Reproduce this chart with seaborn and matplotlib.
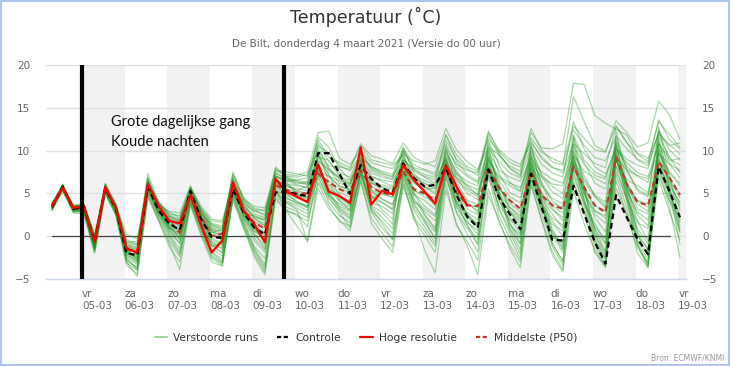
import numpy as np
import pandas as pd
import matplotlib
matplotlib.use("Agg")
import matplotlib.pyplot as plt
import seaborn as sns
from matplotlib.lines import Line2D
from matplotlib.patches import Rectangle

# ---------------- data ----------------
times = pd.date_range("2021-03-04 07:00", periods=60, freq="6h")

hres = [3.5, 5.7, 3.3, 3.5, -0.7, 5.7, 3.3, -1.4, -1.9, 6.1, 3.6, 1.8, 1.5, 4.8,
        1.3, -1.9, -0.5, 6.3, 3.0, 1.4, -0.7, 6.7, 5.2, 4.6, 4.0, 8.4, 5.2, 4.7,
        3.9, 10.4, 3.7, 5.3, 4.9, 8.3, 6.6, 5.2, 3.8, 8.3, 5.8, 3.6]

controle = [3.4, 5.8, 3.2, 3.4, -0.6, 5.6, 3.2, -2.0, -2.2, 5.8, 3.0, 1.5, 0.7, 5.3,
            2.0, -0.1, -0.2, 5.5, 2.8, 1.0, 0.2, 5.1, 5.2, 4.9, 4.7, 9.7, 9.7, 7.3,
            4.95, 8.3, 6.7, 5.6, 5.1, 8.5, 6.8, 5.8, 6.0, 8.0, 4.8, 2.3, 1.0, 7.8,
            4.5, 2.6, 0.8, 7.3, 3.4, -0.4, -0.5, 5.9, 2.6, -0.7, -3.2, 4.8, 2.2,
            -0.3, -2.1, 8.1, 5.3, 2.2]

p50 = [3.6, 5.6, 3.2, 3.3, -0.5, 5.6, 3.3, -1.5, -2.0, 5.9, 3.3, 1.8, 0.4, 5.0,
       2.3, 0.0, 0.3, 5.2, 3.0, 1.6, 0.9, 6.0, 5.4, 5.0, 5.0, 7.3, 6.3, 5.5,
       4.95, 7.7, 5.7, 5.1, 4.8, 7.6, 5.5, 5.0, 4.2, 7.7, 5.2, 3.6, 3.5, 8.0,
       5.7, 4.2, 3.2, 7.5, 4.8, 3.6, 3.2, 8.1, 5.7, 3.6, 2.8, 9.2, 6.1, 4.0,
       3.6, 8.7, 6.9, 4.8]

member_01 = [3.6, 5.9, 3.4, 3.3, -0.9, 5.5, 3.1, -1.8, -2.4, 5.7, 3.0, 1.2, 0.6, 4.9, 2.1,
             0.2, -0.4, 5.6, 2.9, 0.8, 0.1, 6.2, 5.3, 4.8, 4.4, 7.8, 6.0, 5.1, 4.6, 8.2, 5.9,
             5.0, 4.5, 7.9, 5.4, 4.6, 3.9, 8.1, 5.0, 3.2, 2.5, 8.4, 5.6, 3.9, 2.8, 7.9, 4.6,
             3.1, 2.2, 8.8, 5.9, 3.0, 2.1, 9.5, 6.3, 4.1, 3.4, 8.9, 6.6, 4.5]
member_02 = [3.2, 5.6, 3.0, 3.0, -1.5, 5.4, 2.8, -2.9, -3.6, 5.2, 2.4, 0.3, -1.5, 4.4, 1.0,
             -1.8, -2.7, 5.0, 1.8, -1.2, -2.6, 5.4, 4.1, 3.6, 3.0, 8.6, 5.2, 3.5, 2.9, 9.0, 4.8,
             3.1, 2.0, 8.8, 4.5, 2.4, 1.0, 8.9, 4.2, 1.2, -0.4, 9.1, 4.8, 1.5, -0.9, 8.7, 4.0,
             0.6, -1.4, 9.6, 5.2, 0.9, -1.8, 10.4, 5.9, 1.8, -0.6, 11.2, 6.8, 3.1]
member_03 = [3.9, 5.4, 3.6, 3.7, 0.3, 5.3, 3.5, 0.2, -0.3, 6.0, 3.8, 2.6, 2.4, 5.1, 3.2,
             1.8, 1.6, 5.9, 3.8, 2.9, 2.6, 6.6, 6.1, 5.9, 5.7, 9.2, 7.6, 6.8, 6.2, 8.9, 7.4,
             6.9, 6.6, 8.4, 7.1, 6.5, 6.0, 9.4, 7.3, 6.4, 5.9, 9.8, 7.7, 6.9, 6.4, 9.1, 7.5,
             6.7, 6.2, 10.5, 8.4, 7.1, 6.7, 10.1, 8.6, 7.4, 7.0, 10.8, 9.1, 8.3]
member_04 = [3.4, 6.0, 3.2, 3.5, -0.4, 5.9, 3.4, -1.2, -1.7, 6.3, 3.5, 1.9, 1.3, 5.2, 2.6,
             0.9, 0.4, 6.5, 3.5, 2.1, 1.2, 7.1, 6.4, 6.6, 6.8, 10.9, 8.7, 7.4, 6.9, 9.7, 8.1,
             7.6, 7.2, 10.4, 8.3, 7.8, 7.4, 11.2, 9.0, 7.9, 7.1, 11.8, 9.4, 8.2, 7.6, 12.1, 10.3,
             10.2, 10.8, 17.9, 17.7, 14.1, 13.2, 12.5, 11.8, 9.6, 8.7, 13.4, 11.9, 10.4]
member_05 = [3.0, 5.2, 2.8, 2.7, -1.9, 4.9, 2.5, -3.4, -4.4, 4.7, 1.8, -1.2, -3.0, 3.8, 0.3,
             -2.6, -3.4, 4.6, 1.2, -2.1, -4.2, 4.8, 3.4, 2.9, 2.2, 7.1, 4.0, 2.4, 1.6, 7.8, 3.4,
             2.2, 0.9, 6.7, 3.0, 1.1, -0.8, 7.0, 2.7, 0.3, -1.8, 7.5, 3.1, 0.4, -2.1, 6.8, 2.6,
             -0.9, -2.9, 7.4, 3.5, -0.6, -3.3, 8.2, 4.1, -1.1, -3.2, 9.4, 4.6, 0.8]
member_06 = [3.5, 5.8, 3.3, 3.6, -0.6, 5.8, 3.4, -1.4, -2.0, 6.2, 3.4, 1.7, 1.1, 4.7, 1.6,
             -1.2, -0.8, 6.1, 3.1, 1.2, -0.5, 6.8, 5.6, 4.5, 3.9, 8.1, 5.5, 4.9, 3.6, 10.1, 4.3,
             5.2, 4.9, 8.0, 6.2, 5.4, 4.0, 8.6, 5.9, 3.8, 3.0, 7.9, 4.9, 2.8, 1.6, 7.1, 3.8,
             2.1, 1.3, 8.3, 4.9, 2.9, 2.4, 9.8, 6.2, 3.2, 2.6, 8.4, 5.8, 4.0]
member_07 = [3.8, 5.7, 3.5, 3.4, -0.2, 5.6, 3.6, -0.8, -1.1, 5.9, 3.9, 2.3, 1.9, 5.6, 2.9,
             1.2, 0.9, 6.9, 4.2, 3.3, 2.9, 7.6, 7.2, 7.1, 7.5, 12.1, 12.3, 9.1, 8.4, 9.9, 8.6,
             8.2, 7.9, 9.6, 8.8, 8.4, 8.8, 12.6, 10.1, 8.7, 7.8, 10.4, 9.5, 8.0, 7.2, 11.5, 9.8,
             9.1, 8.5, 12.9, 11.4, 10.1, 9.8, 13.5, 12.1, 10.4, 10.9, 15.8, 14.2, 11.3]
member_08 = [3.1, 5.5, 2.9, 2.9, -1.7, 5.1, 2.6, -2.6, -3.9, 5.0, 2.2, -0.2, -2.1, 4.1, 0.8,
             -2.2, -3.1, 4.8, 1.4, -1.6, -3.6, 5.2, 3.9, 3.1, -0.7, 5.6, 3.2, 1.9, 0.6, 6.4, 2.1,
             0.4, -1.2, 6.1, 2.4, -1.6, -4.3, 5.4, 1.5, -1.1, -4.5, 4.8, 1.9, -1.4, -3.7, 5.9, 2.0,
             -1.8, -3.9, 6.4, 2.8, -1.9, -3.7, 7.2, 3.3, -2.0, -3.6, 7.7, 3.5, -2.5]
member_09 = [3.7, 6.1, 3.4, 3.2, -1.1, 5.7, 3.0, -2.2, -2.8, 6.6, 3.2, 0.9, 0.1, 5.4, 2.5,
             -0.7, -1.6, 5.7, 2.4, 0.3, -1.4, 6.4, 5.8, 5.6, 5.3, 9.5, 7.1, 5.8, 5.5, 8.7, 6.6,
             5.7, 5.0, 9.3, 6.8, 5.9, 5.1, 9.7, 6.9, 5.0, 4.3, 9.2, 6.5, 4.6, 3.9, 10.4, 7.0,
             5.2, 4.4, 9.8, 7.1, 4.7, 3.6, 11.2, 7.6, 5.5, 4.8, 9.6, 7.4, 5.9]
member_10 = [3.3, 5.3, 3.1, 3.1, -1.3, 5.2, 2.9, -1.9, -2.6, 5.4, 2.8, 1.0, 0.4, 4.6, 1.8,
             -0.4, -1.0, 5.3, 2.6, 0.5, 0.4, 5.9, 4.9, 4.1, 3.5, 6.8, 4.7, 3.8, 3.1, 7.3, 4.5,
             3.9, 3.2, 7.2, 4.1, 3.2, 2.3, 6.7, 3.9, 2.1, 1.5, 7.1, 3.6, 1.9, 1.1, 6.5, 3.0,
             1.4, 0.6, 6.9, 3.8, 1.1, -0.3, 7.6, 4.4, 1.6, 0.9, 7.1, 4.1, 2.3]
member_11 = [3.6, 5.5, 3.5, 3.8, 0.1, 5.4, 3.7, -0.4, -0.9, 5.6, 3.6, 2.9, 2.7, 5.8, 3.5,
             2.0, 1.8, 6.3, 4.0, 3.0, 3.1, 7.0, 6.7, 6.4, 6.1, 7.5, 7.0, 6.5, 6.0, 9.3, 8.1,
             7.4, 7.0, 8.9, 7.9, 7.2, 6.9, 10.3, 8.4, 7.7, 7.4, 11.4, 9.9, 8.6, 8.1, 10.9, 9.3,
             8.0, 7.7, 12.4, 10.6, 9.2, 8.8, 11.7, 10.2, 9.0, 8.5, 13.6, 11.3, 10.2]
member_12 = [3.4, 5.9, 3.0, 3.0, -1.0, 6.0, 3.1, -2.3, -3.1, 6.1, 2.9, 0.5, -0.8, 5.0, 1.5,
             -1.5, -2.3, 5.9, 2.0, -0.5, -1.9, 6.6, 5.0, 4.0, 3.3, 9.9, 6.3, 4.2, 3.0, 8.0, 3.6,
             2.8, 1.4, 9.9, 5.1, 2.6, 0.7, 10.6, 5.5, 1.8, 0.2, 10.1, 5.2, 0.9, -0.9, 9.6, 4.4,
             0.1, -1.9, 10.9, 5.6, -0.5, -2.7, 12.3, 6.1, 0.3, -2.4, 12.8, 7.0, 1.9]
member_13 = [3.5, 5.6, 3.2, 3.4, -0.5, 5.5, 3.2, -1.6, -1.8, 5.9, 3.3, 1.6, 0.9, 4.9, 2.2,
             0.5, 0.1, 5.1, 3.1, 1.7, 1.3, 5.8, 5.5, 5.2, 5.0, 7.0, 6.5, 5.6, 5.1, 7.6, 5.4,
             4.9, 4.6, 7.4, 5.3, 4.9, 4.5, 7.6, 5.1, 3.7, 3.4, 7.8, 5.5, 4.2, 3.3, 7.3, 4.7,
             3.8, 3.4, 8.0, 5.5, 3.6, 2.9, 8.9, 6.0, 4.2, 3.8, 8.5, 6.8, 5.0]
member_14 = [3.7, 5.4, 3.3, 3.5, -0.8, 5.3, 3.3, -1.1, -1.5, 5.5, 3.7, 2.1, 1.6, 4.4, 2.0,
             0.7, -0.1, 4.8, 2.7, 2.4, 2.0, 7.3, 6.9, 6.1, 6.3, 11.6, 10.4, 7.9, 6.6, 9.1, 5.2,
             4.3, 3.7, 8.5, 3.9, 1.8, -0.2, 8.1, 3.4, 1.6, 0.7, 8.9, 4.1, 2.2, 0.3, 9.2, 3.9,
             -1.2, -3.4, 8.5, 4.2, 0.8, -0.9, 10.8, 5.0, -0.9, -3.7, 10.2, 5.4, 1.2]
member_15 = [3.2, 5.7, 3.1, 3.3, -1.2, 5.8, 3.2, -2.0, -2.5, 6.9, 3.3, 1.3, 0.7, 5.7, 3.0,
             1.0, 0.6, 7.5, 4.3, 2.6, 2.2, 8.1, 6.9, 6.5, 6.3, 10.4, 8.0, 6.7, 6.1, 9.8, 7.9,
             7.3, 6.9, 10.1, 7.8, 6.9, 6.2, 11.8, 8.8, 7.2, 6.4, 12.3, 9.7, 7.9, 7.0, 12.6, 10.1,
             8.7, 8.3, 16.3, 13.4, 10.6, 9.9, 12.9, 11.0, 8.9, 8.2, 12.1, 10.7, 9.6]
member_16 = [3.0, 5.9, 2.7, 2.6, -2.0, 5.0, 2.7, -3.1, -4.0, 4.9, 2.0, -0.6, -2.4, 3.9, 0.6,
             -2.4, -3.2, 4.4, 1.0, -1.8, -3.9, 4.5, 3.1, 2.4, 1.8, 6.2, 3.6, 1.7, 1.2, 7.0, 2.8,
             1.0, -0.4, 6.4, 1.9, 0.1, -1.9, 6.2, 1.2, -0.6, -2.8, 5.6, 1.6, -1.0, -3.0, 6.2, 1.8,
             -2.2, -4.2, 5.3, 1.4, -1.7, -3.5, 6.5, 2.5, -1.4, -3.1, 6.7, 2.9, -0.4]
member_17 = [3.6, 5.8, 3.6, 3.7, -0.3, 5.7, 3.5, -1.0, -1.3, 7.3, 4.0, 2.8, 2.2, 5.9, 2.8,
             0.4, 0.8, 6.7, 3.6, 2.0, 1.5, 7.0, 6.3, 5.0, 4.6, 8.9, 7.3, 4.6, 3.9, 8.6, 6.2,
             6.0, 5.6, 10.3, 7.4, 5.8, 4.9, 9.0, 6.3, 4.2, 3.7, 10.9, 7.3, 5.1, 4.5, 8.4, 5.9,
             4.4, 3.8, 11.4, 8.6, 6.2, 5.5, 8.7, 6.6, 5.9, 5.1, 11.7, 9.3, 7.4]
member_18 = [3.3, 5.6, 3.0, 2.8, -1.4, 5.4, 2.8, -2.5, -3.3, 5.6, 2.6, 0.7, -0.3, 4.3, 1.2,
             -1.0, -1.9, 5.5, 2.3, 0.2, -1.0, 6.1, 4.6, 3.8, 3.4, 7.4, 5.0, 3.3, 2.5, 7.1, 3.9,
             3.5, 2.6, 7.7, 4.0, 2.9, 1.8, 7.9, 3.8, 2.6, 1.1, 8.1, 4.3, 1.2, 0.2, 8.3, 3.5,
             1.8, -0.1, 7.8, 4.0, 1.5, -0.8, 9.1, 4.8, 0.9, -0.9, 9.0, 4.9, 1.6]
member_19 = [3.9, 6.0, 3.6, 3.6, 0.0, 6.1, 3.8, -0.6, -1.0, 6.4, 4.1, 2.5, 2.0, 5.5, 3.3,
             1.5, 1.2, 7.1, 4.4, 3.5, 3.3, 7.9, 7.0, 6.9, 7.2, 10.0, 8.2, 8.1, 7.8, 10.6, 8.9,
             8.6, 8.3, 9.4, 7.0, 6.2, 5.5, 9.9, 7.6, 5.9, 4.8, 9.5, 6.1, 3.0, 1.9, 8.0, 4.3,
             2.6, 0.9, 9.2, 5.0, 2.2, 0.5, 9.9, 5.6, 2.5, 1.2, 10.5, 6.2, 3.8]
member_20 = [3.4, 5.5, 3.1, 3.2, -0.8, 5.6, 3.0, -1.7, -2.2, 5.8, 3.1, 1.1, 0.2, 4.6, 1.9,
             -0.2, -0.9, 6.0, 2.5, 0.6, -0.3, 5.5, 3.0, 1.2, -0.5, 6.4, 4.4, 3.0, 2.0, 7.5, 3.2,
             1.5, -0.4, 7.3, 3.6, 2.0, 0.5, 7.4, 4.1, 2.8, 1.9, 9.4, 5.9, 3.4, 2.4, 9.8, 6.3,
             4.1, 3.2, 10.1, 6.7, 4.8, 4.0, 11.6, 7.9, 5.3, 4.6, 12.4, 8.8, 9.1]
member_21 = [3.5, 5.7, 3.4, 3.3, -0.7, 5.9, 3.3, -1.5, -2.7, 6.4, 3.5, 1.4, -0.5, 4.8, 1.7,
             -0.9, -1.4, 6.2, 3.3, 1.5, 0.3, 6.5, 5.9, 5.4, 4.9, 8.4, 6.9, 5.9, 5.3, 7.2, 6.1,
             5.8, 5.4, 8.8, 6.4, 5.1, 3.5, 10.1, 7.3, 5.6, 4.9, 8.7, 6.8, 5.9, 5.2, 9.4, 6.2,
             3.3, 1.8, 9.0, 6.4, 4.6, 3.3, 8.2, 5.9, 3.8, 2.9, 9.8, 7.5, 6.2]
member_22 = [3.1, 5.4, 2.9, 2.9, -1.6, 5.2, 2.4, -3.0, -4.7, 4.5, 1.9, -0.8, -3.9, 3.6, 0.1,
             -3.0, -3.5, 4.2, 0.9, -2.4, -4.5, 4.3, 2.9, 2.6, 1.1, 7.7, 4.6, 2.8, 1.0, 6.6, 1.5,
             -0.3, -1.9, 5.8, 2.2, 0.6, -1.2, 7.3, 2.9, 0.9, -0.8, 6.9, 2.4, -0.2, -2.6, 7.7, 3.1,
             0.4, -1.6, 8.6, 4.0, 0.2, -2.3, 9.3, 4.5, 0.6, -1.7, 8.1, 4.2, 0.4]
member_23 = [3.8, 5.9, 3.5, 3.5, -0.1, 6.2, 3.7, -0.7, -0.6, 6.8, 3.9, 2.4, 1.7, 5.6, 3.1,
             1.4, 1.0, 7.3, 4.5, 3.1, 2.4, 7.7, 7.5, 7.3, 7.0, 11.3, 9.2, 8.6, 8.0, 10.8, 9.4,
             9.0, 8.5, 10.9, 9.2, 8.6, 8.1, 11.9, 9.5, 8.1, 7.6, 12.1, 10.1, 9.0, 8.4, 11.2, 9.0,
             8.1, 7.4, 10.8, 9.6, 8.5, 8.0, 12.8, 10.9, 9.7, 9.1, 11.9, 10.6, 10.9]
member_24 = [3.4, 5.7, 3.2, 3.4, -0.6, 5.5, 3.1, -1.9, -2.3, 5.9, 3.1, 1.4, 0.8, 5.2, 2.1,
             0.1, -0.3, 5.4, 2.7, 0.9, 0.4, 5.2, 5.0, 4.8, 4.5, 9.2, 8.9, 7.0, 5.2, 8.1, 6.3,
             5.4, 4.8, 8.2, 6.3, 5.5, 5.6, 7.9, 4.9, 2.6, 1.4, 7.6, 4.6, 2.9, 1.2, 7.0, 3.6,
             0.0, -0.8, 6.2, 3.0, -0.2, -2.6, 5.6, 2.5, 0.1, -1.5, 7.8, 5.0, 2.6]
member_25 = [3.6, 5.6, 3.3, 3.4, -0.4, 5.7, 3.6, -1.3, -2.1, 6.0, 3.5, 1.9, 1.2, 4.5, 2.4,
             0.6, -0.6, 6.3, 3.4, 1.6, 0.9, 6.4, 6.0, 5.3, 5.9, 9.6, 7.9, 6.2, 5.8, 9.2, 7.0,
             6.4, 5.8, 9.0, 7.6, 7.0, 6.6, 9.1, 6.6, 5.4, 4.6, 11.2, 8.3, 6.3, 5.3, 10.1, 7.2,
             5.8, 5.0, 11.8, 8.9, 7.5, 6.9, 10.6, 8.1, 7.0, 6.3, 10.9, 8.5, 6.8]
member_26 = [3.3, 5.8, 3.1, 3.1, -1.0, 5.6, 2.9, -2.1, -3.0, 5.5, 2.7, 0.8, -0.9, 4.7, 1.4,
             -1.1, -2.0, 5.6, 2.2, -0.2, -1.6, 5.7, 4.4, 3.9, 3.6, 8.0, 5.5, 4.1, 3.4, 8.4, 4.8,
             4.0, 3.1, 8.9, 5.0, 3.5, 2.5, 9.3, 4.7, 2.4, 1.0, 10.6, 5.1, 1.6, -0.3, 10.8, 5.2,
             0.8, -1.1, 11.7, 5.8, 0.4, -2.0, 11.0, 5.4, -0.4, -2.8, 11.5, 6.0, 0.5]
member_27 = [3.7, 5.5, 3.4, 3.6, -0.2, 5.4, 3.4, -0.9, -1.4, 5.3, 3.4, 2.2, 1.8, 4.9, 2.7,
             1.3, 0.7, 5.8, 3.6, 2.3, 1.8, 6.9, 6.5, 6.0, 5.6, 8.8, 7.8, 6.9, 6.5, 8.3, 6.9,
             6.6, 6.3, 8.0, 6.7, 6.1, 5.8, 8.4, 6.8, 6.0, 5.4, 8.9, 7.0, 6.2, 5.7, 8.6, 6.9,
             6.1, 5.9, 9.4, 7.6, 6.8, 6.1, 9.2, 7.7, 7.1, 6.7, 9.7, 8.4, 7.7]
member_28 = [3.2, 5.7, 3.0, 3.1, -1.4, 5.5, 2.9, -2.7, -3.8, 5.3, 2.5, 0.1, -1.9, 4.0, 0.9,
             -1.9, -3.0, 4.9, 1.6, -1.4, -3.3, 5.0, 4.0, 3.3, 2.6, 8.3, 4.9, 3.2, 2.2, 7.6, 3.0,
             1.8, 0.3, 7.0, 3.3, 1.6, -0.3, 8.5, 3.6, 1.4, -1.1, 7.9, 3.3, 0.8, -1.6, 8.9, 3.9,
             -0.8, -3.0, 9.3, 4.5, -1.2, -3.5, 9.6, 4.3, -0.8, -3.4, 10.7, 5.6, -1.0]
member_29 = [3.5, 6.0, 3.3, 3.6, -0.5, 6.0, 3.5, -1.2, -1.6, 6.5, 3.7, 2.0, 1.5, 5.3, 2.8,
             0.8, 0.2, 6.6, 3.9, 2.2, 1.9, 7.4, 6.6, 6.3, 6.0, 10.6, 9.7, 8.3, 7.6, 9.5, 7.7,
             7.1, 6.7, 9.9, 8.0, 7.7, 7.1, 10.8, 8.1, 7.0, 6.2, 10.2, 8.7, 7.4, 6.8, 10.5, 8.4,
             7.4, 6.9, 13.4, 10.2, 8.1, 7.3, 10.2, 9.0, 8.3, 7.9, 12.3, 10.1, 8.9]
member_30 = [3.4, 5.6, 3.2, 3.3, -0.9, 5.6, 3.2, -1.7, -2.9, 5.7, 2.9, 1.0, -0.1, 4.5, 1.6,
             -0.6, -1.2, 5.9, 2.8, 1.0, -0.7, 6.3, 5.4, 4.9, 4.2, 7.6, 5.8, 4.4, 3.7, 8.8, 5.3,
             4.4, 3.7, 7.6, 4.8, 4.2, 3.1, 8.8, 5.6, 4.1, 2.7, 8.3, 5.1, 3.4, 2.1, 8.1, 5.0,
             3.6, 2.7, 8.6, 5.3, 2.6, 1.5, 9.0, 5.3, 2.8, 1.9, 8.1, 5.3, 3.5]

members = [member_01, member_02, member_03, member_04, member_05, member_06, member_07,
           member_08, member_09, member_10, member_11, member_12, member_13, member_14,
           member_15, member_16, member_17, member_18, member_19, member_20, member_21,
           member_22, member_23, member_24, member_25, member_26, member_27, member_28,
           member_29, member_30]

tick_days = ["vr", "za", "zo", "ma", "di", "wo", "do", "vr",
             "za", "zo", "ma", "di", "wo", "do", "vr"]
tick_dates = ["05-03", "06-03", "07-03", "08-03", "09-03", "10-03", "11-03", "12-03",
              "13-03", "14-03", "15-03", "16-03", "17-03", "18-03", "19-03"]

title = "Temperatuur (˚C)"
subtitle = "De Bilt, donderdag 4 maart 2021 (Versie do 00 uur)"
note_lines = ["Grote dagelijkse gang", "Koude nachten"]
legend_labels = ["Verstoorde runs", "Controle", "Hoge resolutie", "Middelste (P50)"]
source = "Bron: ECMWF/KNMI"

# ---------------- frames ----------------
ens_df = pd.DataFrame(
    [(times[i], v, m) for m, vals in enumerate(members) for i, v in enumerate(vals)],
    columns=["time", "temp", "member"])
ctrl_df = pd.DataFrame({"time": times, "temp": controle})
p50_df = pd.DataFrame({"time": times, "temp": p50})
hres_df = pd.DataFrame({"time": times[:len(hres)], "temp": hres})

# ---------------- plot ----------------
sns.set_style("white")
plt.rcParams["font.family"] = ["DejaVu Sans"]

W, H = 732, 366
fig = plt.figure(figsize=(W / 100, H / 100), dpi=100)
L, R, T, B = 46, 686, 65, 279
ax = fig.add_axes([L / W, 1 - B / H, (R - L) / W, (B - T) / H])

day0 = pd.Timestamp("2021-03-05 00:00")
tick_pos = [day0 + pd.Timedelta(days=i) for i in range(len(tick_dates))]
x_left = pd.Timestamp("2021-03-04 03:36")
x_right = pd.Timestamp("2021-03-19 04:24")

# alternating day bands
for i, tp in enumerate(tick_pos):
    if i % 2 == 0:
        ax.axvspan(tp, tp + pd.Timedelta(days=1), color="#f2f2f2", lw=0, zorder=0)

ax.set_ylim(-5, 20)
ax.set_yticks([-5, 0, 5, 10, 15, 20])
ax.yaxis.grid(True, color="#e0e0e0", lw=1, zorder=0.5)
ax.set_axisbelow(True)

sns.lineplot(data=ens_df, x="time", y="temp", units="member", estimator=None,
             color="#1c931c", alpha=0.36, lw=0.9, ax=ax, legend=False, zorder=2)
sns.lineplot(data=p50_df, x="time", y="temp", color="#c0392b", lw=1.5,
             ax=ax, zorder=3).lines[-1].set_dashes([2.6, 1.7])
sns.lineplot(data=ctrl_df, x="time", y="temp", color="black", lw=1.6,
             ax=ax, zorder=4).lines[-1].set_dashes([2.6, 1.7])
sns.lineplot(data=hres_df, x="time", y="temp", color="#ff0000", lw=1.6,
             ax=ax, zorder=5)

ax.axhline(0, xmin=0.009, xmax=0.975, color="#444444", lw=0.9, zorder=1.5)
ax.axvline(day0, color="black", lw=3, zorder=6)
ax.axvline(pd.Timestamp("2021-03-09 17:30"), color="black", lw=3, zorder=6)

ax.set_xlim(x_left, x_right)
ax.set_xticks(tick_pos)
ax.set_xticklabels([f"{d}\n{t}" for d, t in zip(tick_days, tick_dates)],
                   ha="left", linespacing=1.25)
ax.tick_params(axis="x", colors="#ccd6eb", length=6, width=1, pad=1,
               labelcolor="#666666", labelsize=7.5)
ax.tick_params(axis="y", left=False, right=False, labelleft=True, labelright=True,
               labelcolor="#666666", labelsize=7.5, pad=8)
ax.set_xlabel("")
ax.set_ylabel("")
for s in ["top", "left", "right"]:
    ax.spines[s].set_visible(False)
ax.spines["bottom"].set_color("#ccd6eb")
ax.spines["bottom"].set_linewidth(1)

ax.text(0.102, 0.735, note_lines[0], transform=ax.transAxes, fontsize=10.5,
        family="Lato", color="#111111", va="center", ha="left", zorder=7)
ax.text(0.102, 0.642, note_lines[1], transform=ax.transAxes, fontsize=10.5,
        family="Lato", color="#111111", va="center", ha="left", zorder=7)

fig.text(0.5, 1 - 17 / H, title, ha="center", va="center", fontsize=12.5, color="#333333")
fig.text(0.5, 1 - 44 / H, subtitle, ha="center", va="center", fontsize=7.5, color="#666666")

handles = [Line2D([], [], color="#9fd89f", lw=1.5),
           Line2D([], [], color="black", lw=1.6, dashes=[1.9, 1.1]),
           Line2D([], [], color="#ff0000", lw=1.6),
           Line2D([], [], color="#c0392b", lw=1.6, dashes=[1.9, 1.1])]
leg = fig.legend(handles, legend_labels, loc="center", bbox_to_anchor=(0.5, 1 - 338 / H),
                 ncol=4, frameon=False, fontsize=7.7, handlelength=1.2,
                 handletextpad=0.5, columnspacing=1.8)
for t in leg.get_texts():
    t.set_color("#333333")

fig.text(1 - 8 / W, 1 - 358 / H, source, ha="right", va="center", fontsize=5.5, color="#999999")

fig.patches.append(Rectangle((0.002, 0.003), 0.994, 0.994, transform=fig.transFigure,
                             fill=False, edgecolor="#a9c6ee", lw=1.5))

fig.savefig("out.png", dpi=100)
